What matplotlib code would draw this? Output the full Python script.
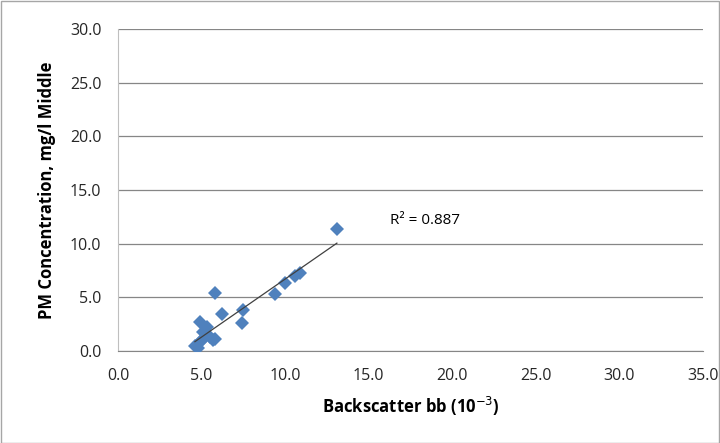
import numpy as np
import matplotlib.pyplot as plt
from matplotlib.patches import Rectangle

plt.rcParams['font.family'] = ['Open Sans', 'DejaVu Sans']

# backscatter (10^-3) vs PM concentration, mg/l (middle)
bb = [4.6, 4.8, 4.9, 5.0, 5.1, 5.3, 5.5, 5.7, 5.8, 4.9, 5.8, 6.2, 7.4, 7.5, 9.4, 10.0, 10.6, 10.9, 13.1]
pm = [0.5, 0.3, 0.8, 1.0, 1.8, 2.2, 1.3, 1.0, 1.1, 2.7, 5.4, 3.4, 2.6, 3.8, 5.3, 6.3, 7.0, 7.3, 11.4]
r2_label = 'R² = 0.887'

fig = plt.figure(figsize=(7.2, 4.43), dpi=100)
fig.patches.append(Rectangle((0.001, 0.001), 0.997, 0.997, transform=fig.transFigure,
                             fill=False, edgecolor='#a6a6a6', linewidth=1))
ax = fig.add_axes([0.164, 0.2077, 0.812, 0.7268])

ax.plot(bb, pm, 'D', color='#4F81BD', markersize=7.5, markeredgewidth=0, zorder=3)

# linear trendline over the data range
k, b = np.polyfit(bb, pm, 1)
xs = np.array([min(bb), max(bb)])
ax.plot(xs, k * xs + b, color='#404040', linewidth=0.9, zorder=4)
ax.text(16.3, 12.2, r2_label, fontsize=11, ha='left', va='center')

ax.set_xlim(0, 35)
ax.set_ylim(0, 30)
ax.set_xticks(np.arange(0, 36, 5))
ax.set_yticks(np.arange(0, 31, 5))
ax.set_xticklabels(['%.1f' % v for v in np.arange(0, 36, 5)])
ax.set_yticklabels(['%.1f' % v for v in np.arange(0, 31, 5)])
ax.tick_params(labelsize=11.5, length=0, labelcolor='#262626')
ax.tick_params(axis='x', pad=12)
ax.tick_params(axis='y', pad=12)
ax.grid(axis='y', color='#868686', linewidth=0.9)
ax.set_axisbelow(True)
for s in ['top', 'right']:
    ax.spines[s].set_visible(False)
ax.spines['left'].set_color('#bfbfbf')
ax.spines['bottom'].set_color('#868686')

ax.set_xlabel('Backscatter bb (10$^{-3}$)', fontsize=12, fontweight='bold', labelpad=8)
ax.set_ylabel('PM Concentration, mg/l Middle', fontsize=12, fontweight='bold', labelpad=10)

fig.savefig('out.png', dpi=100)
